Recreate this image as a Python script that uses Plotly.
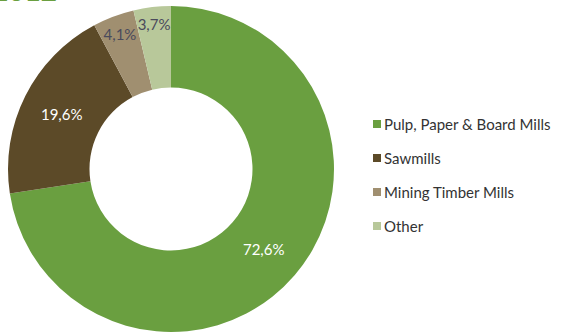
import plotly.graph_objects as go

# Share of wood consumption by industry, 2012
categories = ["Pulp, Paper & Board Mills", "Sawmills", "Mining Timber Mills", "Other"]
shares = [72.6, 19.6, 4.1, 3.7]
colors = ["#6a9f40", "#5c4a28", "#a08f70", "#b8c89a"]
label_colors = ["#ffffff", "#ffffff", "#4a4a5c", "#4a4a5c"]
title_text = "2012"

W, H = 562, 334
font_family = "Lato, 'Open Sans', sans-serif"

fig = go.Figure()
fig.add_trace(go.Pie(
    labels=categories,
    values=shares,
    marker=dict(colors=colors, line=dict(width=0)),
    hole=0.5,
    sort=False,
    direction="clockwise",
    rotation=0,
    textinfo="value",
    texttemplate="%{value:.1f}%",
    textposition="inside",
    insidetextorientation="horizontal",
    textfont=dict(family=font_family, size=15, color=label_colors),
    domain=dict(x=[8 / W, 334 / W], y=[2 / H, 328 / H]),
    showlegend=False,
    hoverinfo="label+percent",
))

# Legend drawn as coloured squares with labels
leg_x0 = 373
leg_y0 = 124
leg_step = 34
sq = 8
for i, (name, col) in enumerate(zip(categories, colors)):
    yc = leg_y0 + i * leg_step
    fig.add_shape(
        type="rect", xref="paper", yref="paper",
        x0=leg_x0 / W, x1=(leg_x0 + sq) / W,
        y0=1 - (yc + sq / 2) / H, y1=1 - (yc - sq / 2) / H,
        fillcolor=col, line=dict(width=0),
    )
    fig.add_annotation(
        text=name, xref="paper", yref="paper",
        x=(leg_x0 + sq + 1) / W, y=1 - yc / H,
        xanchor="left", yanchor="middle", showarrow=False,
        font=dict(family=font_family, size=15, color="#333333"),
    )

# Heading, mostly above the visible area
fig.add_annotation(
    text="<b>" + title_text + "</b>", xref="paper", yref="paper",
    x=-10 / W, y=1 - 9 / H, xanchor="left", yanchor="bottom",
    showarrow=False,
    font=dict(family=font_family, size=28, color="#6a9f40"),
)

fig.update_layout(
    width=W, height=H,
    margin=dict(l=0, r=0, t=0, b=0),
    paper_bgcolor="white",
    plot_bgcolor="white",
    separators=", ",
    uniformtext=dict(minsize=15, mode="show"),
)

fig.write_html("out.html")
